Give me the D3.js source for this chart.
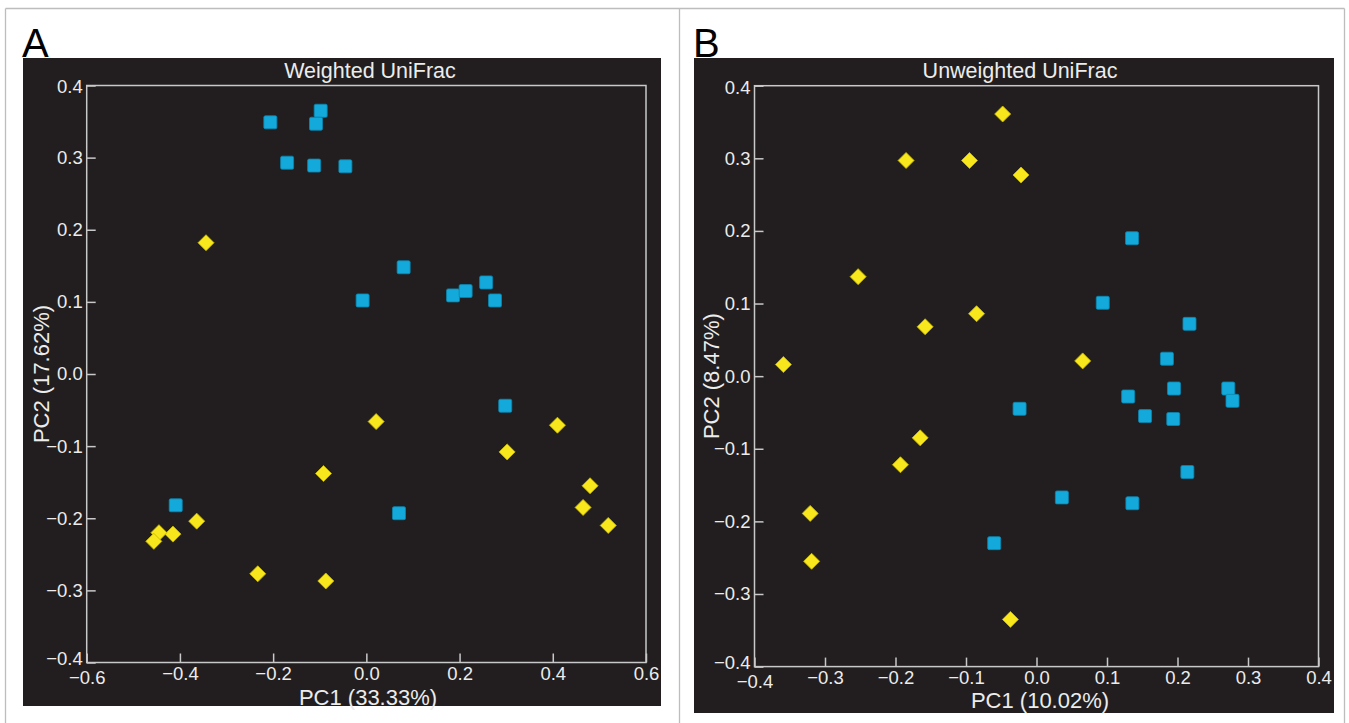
<!DOCTYPE html>
<html><head><meta charset="utf-8">
<script src="https://cdn.jsdelivr.net/npm/d3@7"></script>
<style>
html,body{margin:0;padding:0;background:#fff;}
svg{display:block;font-family:"Liberation Sans",Arial,sans-serif;}
</style></head>
<body>
<svg id="c" width="1349" height="723"></svg>
<script>
// ---- Data ----
const ticksA_x = [-0.6,-0.4,-0.2,0.0,0.2,0.4,0.6];
const ticksA_y = [-0.4,-0.3,-0.2,-0.1,0.0,0.1,0.2,0.3,0.4];
const ticksB_x = [-0.4,-0.3,-0.2,-0.1,0.0,0.1,0.2,0.3,0.4];
const ticksB_y = [-0.4,-0.3,-0.2,-0.1,0.0,0.1,0.2,0.3,0.4];

// Panel A: Weighted UniFrac
const weightedBlue = [
  [-0.206,0.349],[-0.098,0.365],[-0.108,0.347],[-0.170,0.293],[-0.112,0.289],
  [-0.045,0.288],[0.080,0.148],[-0.008,0.102],[0.186,0.109],[0.213,0.115],
  [0.257,0.127],[0.276,0.102],[0.298,-0.044],[0.070,-0.193],[-0.409,-0.182]
];
const weightedYellow = [
  [-0.344,0.182],[0.021,-0.066],[-0.092,-0.138],[0.410,-0.071],[0.302,-0.108],
  [0.480,-0.155],[0.465,-0.185],[0.519,-0.210],[-0.364,-0.204],[-0.415,-0.222],
  [-0.445,-0.220],[-0.456,-0.232],[-0.233,-0.277],[-0.087,-0.287]
];
// Panel B: Unweighted UniFrac
const unweightedBlue = [
  [0.1355,0.190],[0.094,0.101],[0.217,0.072],[0.185,0.024],[0.195,-0.017],
  [0.272,-0.017],[0.278,-0.034],[0.130,-0.028],[-0.024,-0.045],[0.154,-0.055],
  [0.194,-0.059],[0.214,-0.132],[0.036,-0.167],[0.136,-0.175],[-0.060,-0.230]
];
const unweightedYellow = [
  [-0.359,0.016],[-0.253,0.137],[-0.185,0.297],[-0.095,0.297],[-0.048,0.361],
  [-0.022,0.277],[-0.158,0.068],[-0.085,0.086],[0.0655,0.021],[-0.165,-0.085],
  [-0.193,-0.122],[-0.321,-0.189],[-0.319,-0.255],[-0.037,-0.335]
];

const svg = d3.select("#c");
const BG = "#221e1f", FRAME = "#c9c9c9", TXT = "#ececec";
const BLUE = "#13a9da", BLUE_S = "#0b86b0", YEL = "#f7e71c", YEL_S = "#c9b800";
const FONT = "Liberation Sans, Arial, sans-serif";

// outer figure border
const border = svg.append("g").attr("stroke","#bdbdbd").attr("stroke-width",1.3).attr("fill","none");
border.append("line").attr("x1",5.5).attr("x2",1344.5).attr("y1",8.5).attr("y2",8.5);
border.append("line").attr("x1",5.5).attr("x2",5.5).attr("y1",8.5).attr("y2",723);
border.append("line").attr("x1",679.5).attr("x2",679.5).attr("y1",8.5).attr("y2",723);
border.append("line").attr("x1",1344.5).attr("x2",1344.5).attr("y1",8.5).attr("y2",723);

function panel(cfg){
  const g = svg.append("g");
  // panel letter
  g.append("text").attr("x",cfg.letterX).attr("y",57).attr("font-size",40)
    .attr("fill","#000").text(cfg.letter);
  // black box
  g.append("rect").attr("x",cfg.box[0]).attr("y",cfg.box[1])
    .attr("width",cfg.box[2]-cfg.box[0]).attr("height",cfg.box[3]-cfg.box[1])
    .attr("fill",BG);
  const x = d3.scaleLinear().domain(cfg.xd).range([cfg.plot[0],cfg.plot[2]]);
  const y = d3.scaleLinear().domain([-0.4,0.4]).range([cfg.plot[3],cfg.plot[1]]);
  // frame
  g.append("rect").attr("x",cfg.plot[0]).attr("y",cfg.plot[1])
    .attr("width",cfg.plot[2]-cfg.plot[0]).attr("height",cfg.plot[3]-cfg.plot[1])
    .attr("fill","none").attr("stroke",FRAME).attr("stroke-width",1.5);
  // axes
  const ax = g.append("g").attr("transform",`translate(0,${cfg.plot[3]})`)
    .call(d3.axisBottom(x).tickValues(cfg.xt).tickFormat(d3.format(".1f"))
      .tickSizeInner(-9).tickSizeOuter(0).tickPadding(4));
  const ay = g.append("g").attr("transform",`translate(${cfg.plot[0]},0)`)
    .call(d3.axisLeft(y).tickValues(cfg.yt).tickFormat(d3.format(".1f"))
      .tickSizeInner(-9).tickSizeOuter(0).tickPadding(4));
  [ax,ay].forEach(a=>{
    a.attr("font-size",18.5).attr("font-family",FONT);
    a.select(".domain").remove();
    a.selectAll(".tick line").attr("stroke",FRAME).attr("stroke-width",1.5);
    a.selectAll(".tick text").attr("fill",TXT);
  });
  ax.selectAll(".tick text").filter(d=>Math.abs(d-cfg.xd[0])<1e-9).attr("dy","0.95em");
  ay.selectAll(".tick text").filter(d=>Math.abs(d+0.4)<1e-9).attr("dy","0.1em");
  ay.selectAll(".tick text").filter(d=>Math.abs(d-0.4)<1e-9).attr("dy","0.4em");
  // title
  g.append("text").attr("x",cfg.titleX).attr("y",78).attr("text-anchor","middle")
    .attr("font-size",21.5).attr("fill",TXT).text(cfg.title);
  // axis labels
  g.append("text").attr("x",cfg.xlabX).attr("y",cfg.xlabY).attr("text-anchor","middle")
    .attr("font-size",22).attr("fill",TXT).text(cfg.xlab);
  g.append("text").attr("transform",`translate(${cfg.ylabX},${y(0)}) rotate(-90)`)
    .attr("text-anchor","middle").attr("font-size",22).attr("fill",TXT).text(cfg.ylab);
  // points
  const pts = g.append("g");
  pts.selectAll("rect.sq").data(cfg.blue).join("rect").attr("class","sq")
    .attr("x",d=>x(d[0])-6.5).attr("y",d=>y(d[1])-6.5)
    .attr("width",13).attr("height",13).attr("rx",1.5)
    .attr("fill",BLUE).attr("stroke",BLUE_S).attr("stroke-width",0.8);
  const dia = d3.symbol().type(d3.symbolSquare).size(128);
  pts.selectAll("path.dm").data(cfg.yellow).join("path").attr("class","dm")
    .attr("d",dia)
    .attr("transform",d=>`translate(${x(d[0])},${y(d[1])}) rotate(45)`)
    .attr("fill",YEL).attr("stroke",YEL_S).attr("stroke-width",0.8).attr("stroke-linejoin","round");
}

panel({
  letter:"A", letterX:22, box:[23,58,661,706], plot:[86.7,85.5,646,662.5],
  xd:[-0.6,0.6], xt:ticksA_x, yt:ticksA_y,
  title:"Weighted UniFrac", titleX:370,
  xlab:"PC1 (33.33%)", xlabX:368, xlabY:705,
  ylab:"PC2 (17.62%)", ylabX:49,
  blue:weightedBlue, yellow:weightedYellow
});
panel({
  letter:"B", letterX:693, box:[694,58,1334,713], plot:[754.5,85.7,1318.5,666.6],
  xd:[-0.4,0.4], xt:ticksB_x, yt:ticksB_y,
  title:"Unweighted UniFrac", titleX:1020,
  xlab:"PC1 (10.02%)", xlabX:1040, xlabY:708,
  ylab:"PC2 (8.47%)", ylabX:719,
  blue:unweightedBlue, yellow:unweightedYellow
});
</script>
</body></html>
